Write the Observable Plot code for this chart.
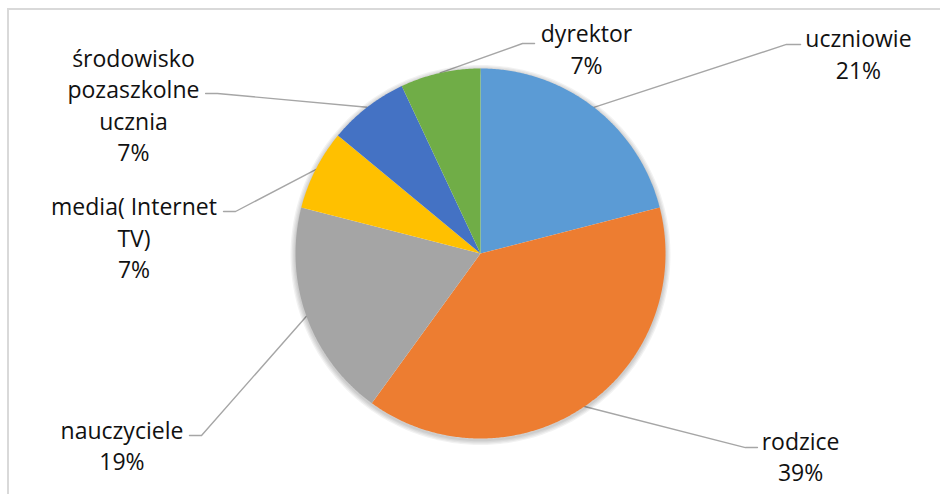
<!DOCTYPE html>
<html>
<head>
<meta charset="utf-8">
<script src="https://cdn.jsdelivr.net/npm/d3@7"></script>
<script src="https://cdn.jsdelivr.net/npm/@observablehq/plot@0.6"></script>
<style>
  html, body { margin: 0; padding: 0; background: #fff; }
  #wrap { position: relative; width: 940px; height: 494px; overflow: hidden; }
  #frame { position: absolute; left: 7px; top: 8px; width: 1000px; height: 1000px;
           border-left: 2px solid #d9d9d9; border-top: 2px solid #d9d9d9; box-sizing: border-box; }
  #chart { position: absolute; left: 0; top: 0; }
</style>
</head>
<body>
<div id="wrap"><div id="frame"></div><div id="chart"></div></div>
<script>
// ---- data ----
const categories = ["uczniowie", "rodzice", "nauczyciele", "media( Internet TV)", "środowisko pozaszkolne ucznia", "dyrektor"];
const shares = [21, 39, 19, 7, 7, 7];
const labelNames = [["uczniowie"], ["rodzice"], ["nauczyciele"], ["media( Internet", "TV)"], ["środowisko", "pozaszkolne", "ucznia"], ["dyrektor"]];
const colors = ["#5b9bd5", "#ed7d31", "#a5a5a5", "#ffc000", "#4472c4", "#70ad47"];

// ---- layout (units of pie radius, centre = 0,0, y up) ----
const W = 940, H = 494, CX = 480, CY = 253, R = 185;
const labelPos = [[2.043, 1.084], [1.730, -1.092], [-1.938, -1.032], [-1.873, 0.092], [-1.876, 0.808], [0.573, 1.111]];
const elbowPos = [[1.654, 1.130], [1.432, -1.049], [-1.508, -0.984], [-1.324, 0.227], [-1.422, 0.865], [0.227, 1.135]];
const endPos   = [[1.730, 1.130], [1.497, -1.049], [-1.573, -0.984], [-1.389, 0.227], [-1.486, 0.865], [0.292, 1.135]];

const total = d3.sum(shares);
const slicePts = [];
const leaderPts = [];
const labels = [];
let acc = 0;
categories.forEach((c, i) => {
  const a0 = acc / total * 2 * Math.PI;
  acc += shares[i];
  const a1 = acc / total * 2 * Math.PI;
  slicePts.push({cat: c, x: 0, y: 0});
  const n = Math.max(2, Math.ceil((a1 - a0) / (Math.PI / 360)));
  for (let k = 0; k <= n; k++) {
    const a = a0 + (a1 - a0) * k / n;
    slicePts.push({cat: c, x: Math.sin(a), y: Math.cos(a)});
  }
  const am = (a0 + a1) / 2;
  leaderPts.push({cat: c, x: Math.sin(am), y: Math.cos(am)});
  leaderPts.push({cat: c, x: elbowPos[i][0], y: elbowPos[i][1]});
  leaderPts.push({cat: c, x: endPos[i][0], y: endPos[i][1]});
  labels.push({cat: c, x: labelPos[i][0], y: labelPos[i][1],
               text: [...labelNames[i], Math.round(shares[i] / total * 100) + "%"].join("\n")});
});

// soft shadow rings just outside the pie outline
const shadowPts = [];
[1, 2, 3, 4].forEach(k => {
  for (let d = 0; d <= 360; d += 1) {
    const a = d * Math.PI / 180;
    shadowPts.push({ring: k, x: Math.sin(a), y: Math.cos(a) - 1.5 / R});
  }
});

const plot = Plot.plot({
  width: W, height: H,
  marginTop: 0, marginRight: 0, marginBottom: 0, marginLeft: 0,
  style: {background: "none", overflow: "visible"},
  x: {domain: [-CX / R, (W - CX) / R], axis: null},
  y: {domain: [-(H - CY) / R, CY / R], axis: null},
  color: {domain: categories, range: colors},
  marks: [
    Plot.line(leaderPts, {x: "x", y: "y", z: "cat", stroke: "#a6a6a6", strokeWidth: 1.4, curve: "linear"}),
    Plot.line(shadowPts, {x: "x", y: "y", z: "ring", stroke: "#000", strokeOpacity: 0.05,
                          strokeWidth: d => d.ring * 2.5, curve: "linear-closed"}),
    Plot.line(slicePts, {x: "x", y: "y", z: "cat", fill: "cat", stroke: "none", curve: "linear-closed"}),
    Plot.text(labels, {x: "x", y: "y", text: "text", fontSize: 23, lineHeight: 1.37,
                       fontFamily: "'Open Sans', sans-serif", fill: "#111", textAnchor: "middle"})
  ]
});

document.getElementById("chart").appendChild(plot);
</script>
</body>
</html>
